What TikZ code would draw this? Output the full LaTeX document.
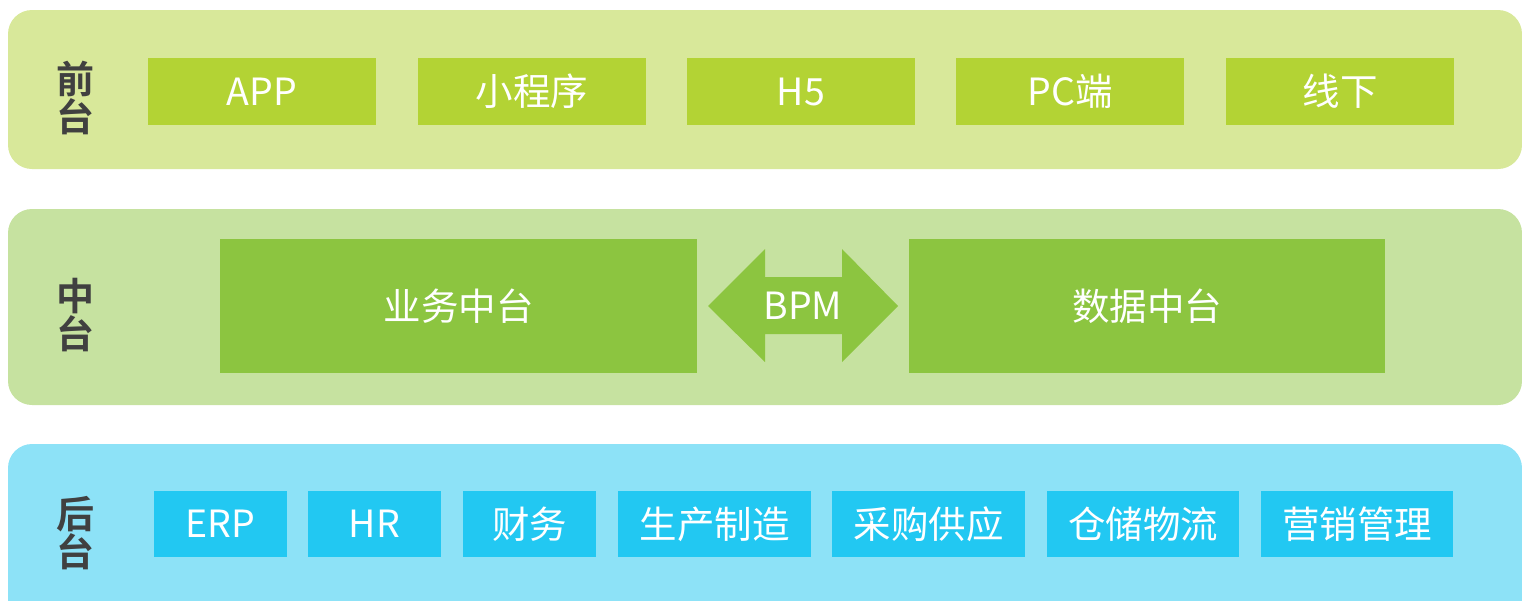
\documentclass[tikz,border=0pt]{standalone}
\usepackage{fontspec}
\setmainfont{Noto Sans CJK SC}
\newfontfamily\cjkbold{Noto Sans CJK SC Bold}
\definecolor{bandA}{HTML}{D8E89A}
\definecolor{boxA}{HTML}{B3D334}
\definecolor{bandB}{HTML}{C6E2A0}
\definecolor{boxB}{HTML}{8CC540}
\definecolor{bandC}{HTML}{8DE2F7}
\definecolor{boxC}{HTML}{22C8F2}
\definecolor{lbl}{HTML}{404040}
\begin{document}
\begin{tikzpicture}[x=1pt,y=-1pt,
  band/.style={rounded corners=24pt},
  item/.style={anchor=north west,inner sep=0pt,outer sep=0pt,text=white,
    font=\fontsize{37.5}{40}\selectfont,align=center},
  side/.style={text=lbl,align=center,font=\cjkbold\fontsize{38}{38}\selectfont}]
\useasboundingbox (0,0) rectangle (1522,600);
% bands
\fill[bandA,band] (8,10) rectangle (1522,169);
\fill[bandB,band] (8,209) rectangle (1522,405);
\fill[bandC,band] (8,444) rectangle (1522,624);
% side labels
\node[side] (lf) at (75,98) {前\\台};
\node[side] (lm) at (75,315) {中\\台};
\node[side] (lb) at (75,533) {后\\台};
% front row
\foreach \t/\x/\n in {APP/148/a1,小程序/418/a2,H5/687/a3,PC端/956/a4,线下/1226/a5}
  \node[item,fill=boxA,minimum width=228pt,minimum height=67pt] (\n) at (\x,58) {\t};
% middle
\node[item,fill=boxB,minimum width=477pt,minimum height=134pt] (m1) at (220,239) {业务中台};
\node[item,fill=boxB,minimum width=476pt,minimum height=134pt] (m2) at (909,239) {数据中台};
\fill[boxB] (708,306) -- (765,249) -- (765,277) -- (842,277) -- (842,249) -- (898,306)
  -- (842,362) -- (842,334) -- (765,334) -- (765,362) -- cycle;
\node[text=white,font=\fontsize{37.5}{40}\selectfont] (bpm) at (803,306) {BPM};
% back row
\foreach \t/\x/\w/\n in {ERP/154/133/b1,HR/308/133/b2,财务/463/133/b3,生产制造/618/193/b4,
  采购供应/832/193/b5,仓储物流/1047/192/b6,营销管理/1261/192/b7}
  \node[item,fill=boxC,minimum width=\w pt,minimum height=66pt] (\n) at (\x,491) {\t};
\end{tikzpicture}
\end{document}
